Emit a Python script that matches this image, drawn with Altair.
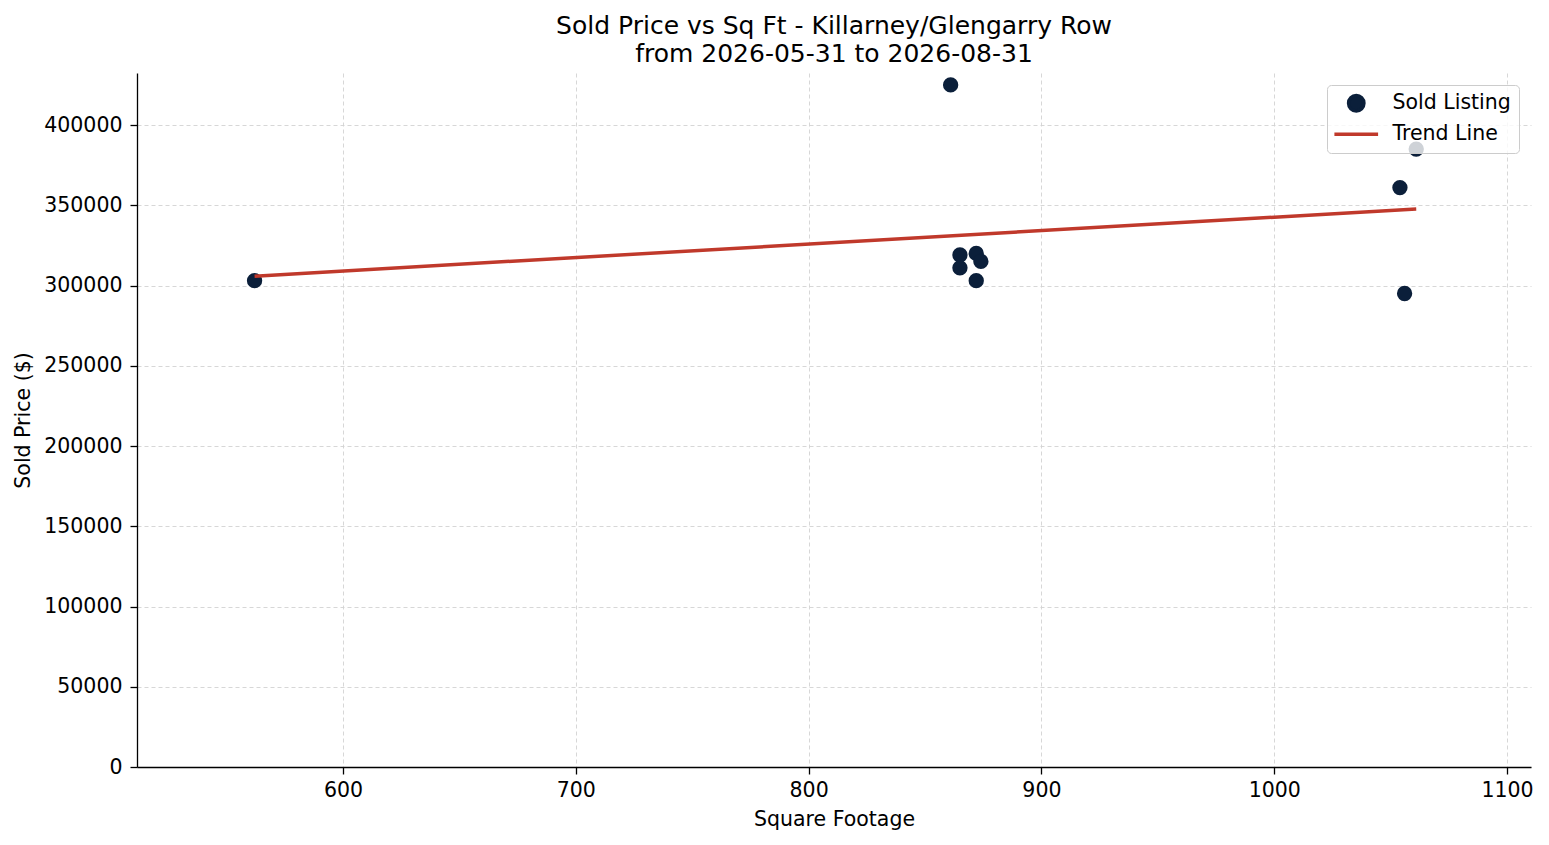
import altair as alt
import pandas as pd

# sold listings
sqft = [562, 861, 865, 865, 872, 874, 872, 1054, 1056, 1061]
price = [303000, 425000, 319000, 311000, 320000, 315000, 303000, 361000, 295000, 385000]

x_ticks = [600, 700, 800, 900, 1000, 1100]
y_ticks = [0, 50000, 100000, 150000, 200000, 250000, 300000, 350000, 400000]

series = ["Sold Listing", "Trend Line"]
colors = ["#0b1f3a", "#c0392b"]

df = pd.DataFrame({"sqft": sqft, "price": price, "series": "Sold Listing"})

FONT = "DejaVu Sans"

x_enc = alt.X(
    "sqft:Q",
    title="Square Footage",
    scale=alt.Scale(domain=[511.5, 1110.3], nice=False, zero=False),
    axis=alt.Axis(values=x_ticks, format="d"),
)
y_enc = alt.Y(
    "price:Q",
    title="Sold Price ($)",
    scale=alt.Scale(domain=[0, 432400], nice=False),
    axis=alt.Axis(values=y_ticks, format="d"),
)
color_scale = alt.Scale(domain=series, range=colors)
legend = alt.Legend(title=None, orient="none", legendX=1190, legendY=12)

points = alt.Chart(df).mark_point(filled=True, size=235, opacity=1).encode(
    x=x_enc,
    y=y_enc,
    color=alt.Color("series:N", scale=color_scale, legend=legend),
    shape=alt.Shape(
        "series:N",
        scale=alt.Scale(domain=series, range=["circle", "M-2.85,0H2.85"]),
        legend=legend,
    ),
)

trend = (
    alt.Chart(df)
    .transform_regression("sqft", "price")
    .transform_calculate(series="'Trend Line'")
    .mark_line(strokeWidth=3.5)
    .encode(x=x_enc, y=y_enc, color=alt.Color("series:N", scale=color_scale, legend=None))
)

chart = (
    alt.layer(points, trend)
    .properties(
        width=1394,
        height=694,
        autosize=alt.AutoSizeParams(type="none"),
        padding={"left": 129, "top": 65, "right": 10, "bottom": 70},
        title=alt.Title(
            ["Sold Price vs Sq Ft - Killarney/Glengarry Row", "from 2026-05-31 to 2026-08-31"],
            fontSize=25,
            fontWeight="normal",
            font=FONT,
            lineHeight=28,
            offset=6,
            anchor="middle",
            color="#000000",
        ),
    )
    .configure_view(stroke=None)
    .configure_axis(
        labelFont=FONT,
        titleFont=FONT,
        labelFontSize=20.5,
        titleFontSize=20.5,
        titleFontWeight="normal",
        labelColor="#000000",
        titleColor="#000000",
        domainColor="#000000",
        tickColor="#000000",
        tickSize=7,
        labelPadding=8,
        gridColor="#d3d3d3",
        gridDash=[4, 3],
        gridWidth=0.9,
        domainWidth=1.3,
        tickWidth=1.3,
    )
    .configure_axisY(titlePadding=10)
    .configure_axisX(titlePadding=9, labelPadding=6, labelFlush=False)
    .configure_legend(
        labelFont=FONT,
        labelFontSize=20.5,
        labelColor="#000000",
        fillColor="rgba(255,255,255,0.8)",
        strokeColor="#cccccc",
        cornerRadius=4,
        padding=8,
        symbolSize=235,
        symbolStrokeWidth=3.5,
        symbolOffset=11,
        rowPadding=6,
        labelOffset=26,
    )
)

chart.save("out.html", embed_options={"renderer": "svg", "actions": False})
